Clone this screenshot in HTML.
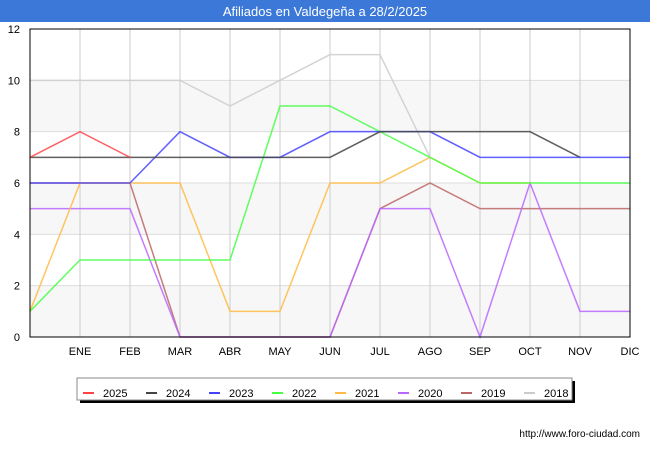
<!DOCTYPE html>
<html><head><meta charset="utf-8"><style>
body{margin:0;background:#fff;font-family:"Liberation Sans",sans-serif}
svg text{font-family:"Liberation Sans",sans-serif}
</style></head><body>
<svg width="650" height="450" id="c">
<rect x="0" y="0" width="650" height="22" fill="#3b78d8"/>
<text x="325" y="16" fill="#fff" font-size="13" text-anchor="middle">Afiliados en Valdegeña a 28/2/2025</text>
<g id="grid"></g><g id="lines"></g>
<rect x="30" y="29" width="600" height="308" fill="none" stroke="#000" stroke-width="1"/>
<g id="leg"></g>
<text x="640" y="437" font-size="10" text-anchor="end" fill="#000">http://www.foro-ciudad.com</text>
</svg>
<script>
const months=["","ENE","FEB","MAR","ABR","MAY","JUN","JUL","AGO","SEP","OCT","NOV","DIC"];
const yTicks=[0,2,4,6,8,10,12];
const years=["2025","2024","2023","2022","2021","2020","2019","2018"];
const colors=["#ff4444","#444444","#4444ff","#44ff44","#ffbb44","#bb66ff","#bb6666","#cccccc"];
const s2025=[7,8,7];
const s2024=[7,7,7,7,7,7,7,8,8,8,8,7];
const s2023=[6,6,6,8,7,7,8,8,8,7,7,7,7];
const s2022=[1,3,3,3,3,9,9,8,7,6,6,6,6];
const s2021=[1,6,6,6,1,1,6,6,7,6,6];
const s2020=[5,5,5,0,0,0,0,5,5,0,6,1,1];
const s2019=[6,6,6,0,0,0,0,5,6,5,5,5,5];
const s2018=[10,10,10,10,9,10,11,11,7];
const series=[s2025,s2024,s2023,s2022,s2021,s2020,s2019,s2018];
const NS="http://www.w3.org/2000/svg";
const X=i=>30+i*50, Y=v=>337-v*(308/12);
function el(t,a,p){const e=document.createElementNS(NS,t);for(const k in a)e.setAttribute(k,a[k]);p.appendChild(e);return e;}
const g=document.getElementById('grid');
for(let i=0;i<yTicks.length-1;i+=2){const r=el('rect',{x:30,y:Y(yTicks[i+1]),width:600,height:Y(yTicks[i])-Y(yTicks[i+1]),fill:'#f7f7f7'},g);

}
yTicks.forEach(v=>{const l=el('line',{x1:30,x2:630,y1:Y(v),y2:Y(v),stroke:'#ddd'},g);


const t=el('text',{x:20,y:Y(v)+4,'font-size':11,'text-anchor':'end'},g);t.textContent=v;

});
months.forEach((m,i)=>{const l=el('line',{x1:X(i),x2:X(i),y1:29,y2:337,stroke:'#ccc'},g);


if(m){const t=el('text',{x:X(i),y:355,'font-size':11,'text-anchor':'middle'},g);t.textContent=m;

}});
const L=document.getElementById('lines');
for(let k=series.length-1;k>=0;k--){const p=el('polyline',{points:series[k].map((v,i)=>X(i)+','+Y(v)).join(' '),fill:'none',stroke:colors[k],'stroke-width':1.5,'stroke-opacity':0.85},L);

}
const lg=document.getElementById('leg');
el('rect',{x:80,y:381,width:495,height:22,fill:'#000'},lg);
const box=el('rect',{x:77,y:378,width:495,height:22,fill:'#fff',stroke:'#888'},lg);


years.forEach((y,k)=>{const x=83+k*63;
const l=el('line',{x1:x,x2:x+11,y1:393,y2:393,stroke:colors[k],'stroke-width':2},lg);


const t=el('text',{x:x+20,y:397,'font-size':11},lg);t.textContent=y;

});
</script>
</body></html>
